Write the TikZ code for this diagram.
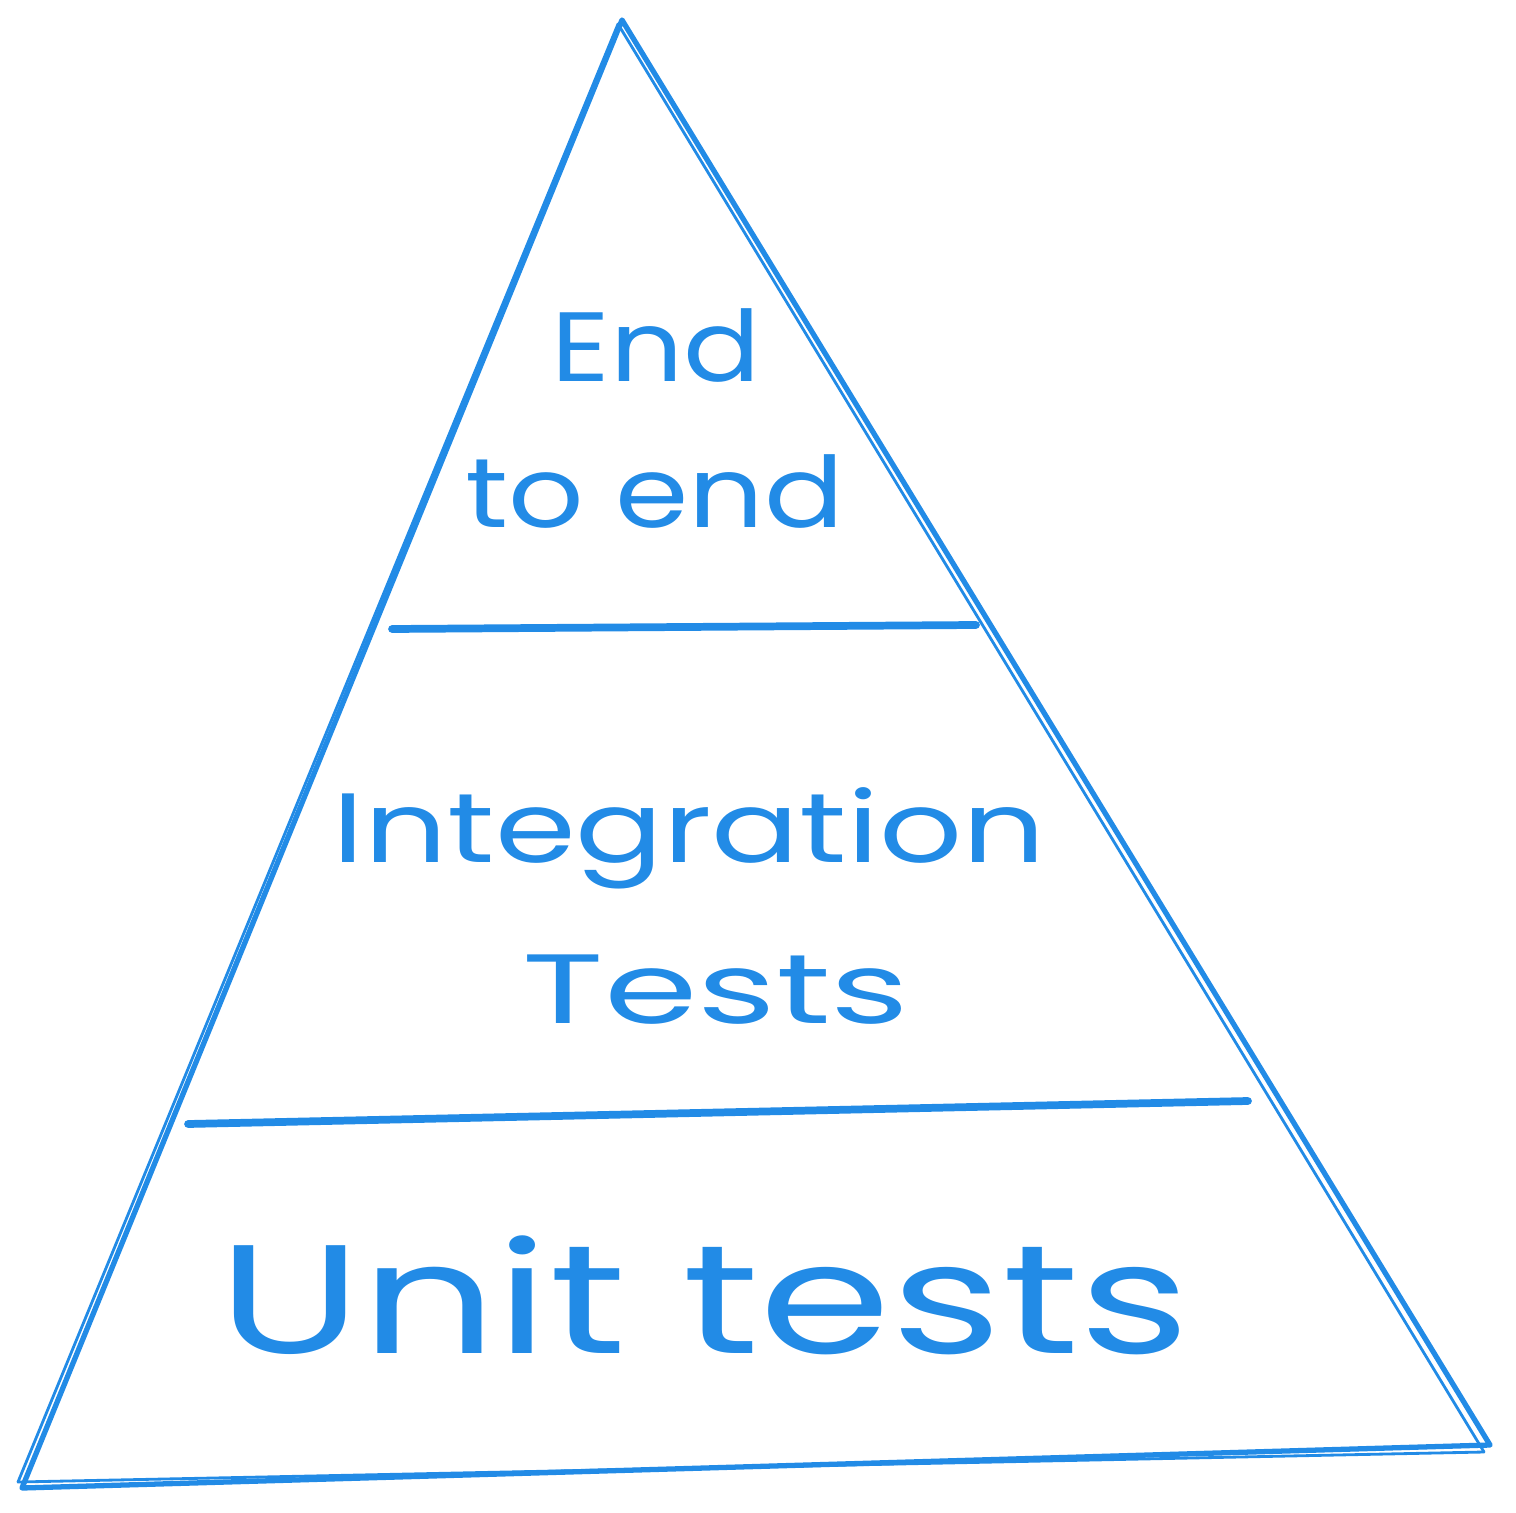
\documentclass[tikz,border=0pt]{standalone}
\usepackage{fontspec}
\setmainfont{Poppins}
\definecolor{skblue}{HTML}{228BE6}
\begin{document}
\begin{tikzpicture}[x=0.01cm,y=-0.01cm,
  edge/.style={draw=skblue,line width=1.5pt,line cap=round,line join=round},
  edgethin/.style={draw=skblue,line width=0.8pt,line cap=round},
  sep/.style={draw=skblue,line width=2.2pt,line cap=round},
  lbl/.style={text=skblue,inner sep=0pt,anchor=center}]
\useasboundingbox (0,0) rectangle (1516,1513);
\coordinate (apex) at (622,20);
\coordinate (bl) at (22,1488);
\coordinate (br) at (1490,1445);
\coordinate (apex2) at (618,24);
\coordinate (bl2) at (18,1482);
\coordinate (br2) at (1484,1452);
% triangle
\draw[edge] (apex) -- (bl) -- (br) -- cycle;
\draw[edgethin] (apex2) -- (bl2);
\draw[edgethin] (bl2) -- (br2);
\draw[edgethin] (apex2) -- (br2);
% separators
\coordinate (s1a) at (392,629);
\coordinate (s1b) at (976,625);
\coordinate (s2a) at (188,1124);
\coordinate (s2b) at (1248,1101);
\draw[sep] (s1a) -- (s1b);
\draw[sep] (s2a) -- (s2b);
% labels
\node[lbl] (end) at (656,346) {\scalebox{1.16}[1.0]{\fontsize{28}{30}\selectfont End}};
\node[lbl] (toend) at (655,492) {\scalebox{1.2}[1.0]{\fontsize{28}{30}\selectfont to end}};
\node[lbl] (integ) at (689,838) {\scalebox{1.32}[1.0]{\fontsize{28}{30}\selectfont Integration}};
\node[lbl] (tests) at (716,990) {\scalebox{1.53}[1.0]{\fontsize{28}{30}\selectfont Tests}};
\node[lbl] (unit) at (704,1295) {\scalebox{1.37}[1.0]{\fontsize{44}{46}\selectfont Unit tests}};
\end{tikzpicture}
\end{document}
